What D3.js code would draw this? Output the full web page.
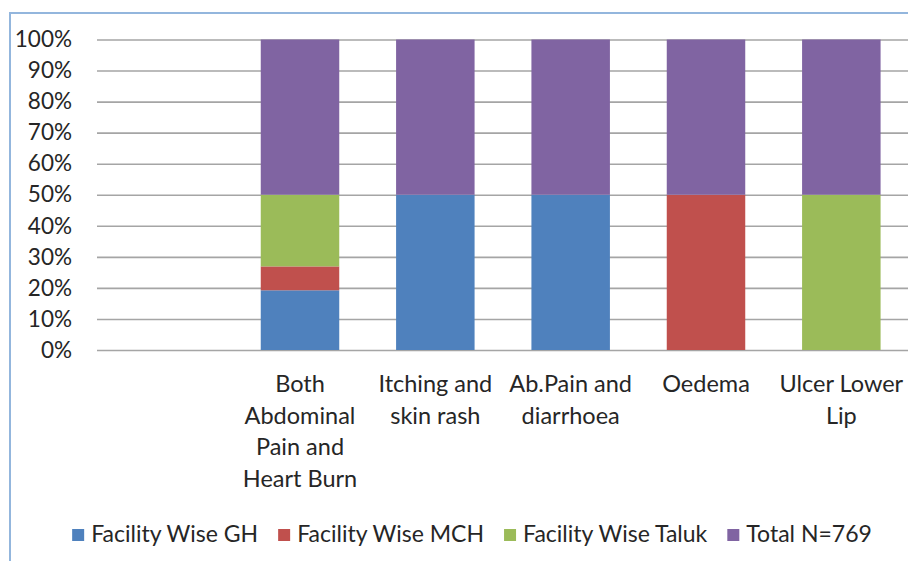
<!DOCTYPE html>
<html>
<head>
<meta charset="utf-8">
<script src="https://cdn.jsdelivr.net/npm/d3@7"></script>
<style>
  body { margin: 0; background: #fff; }
  text { font-family: Lato, "Open Sans", sans-serif; fill: #262626; }
</style>
</head>
<body>
<svg class="chart" width="908" height="561"></svg>
<script>
// data (counts, shown as 100% stacked)
const categories = ["", "Both Abdominal Pain and Heart Burn", "Itching and skin rash", "Ab.Pain and diarrhoea", "Oedema", "Ulcer Lower Lip"];
const tickLabels = [[], ["Both", "Abdominal", "Pain and", "Heart Burn"], ["Itching and", "skin rash"], ["Ab.Pain and", "diarrhoea"], ["Oedema"], ["Ulcer Lower", "Lip"]];
const seriesNames = ["Facility Wise GH", "Facility Wise MCH", "Facility Wise Taluk", "Total N=769"];
const ghValues = [0, 5, 1, 1, 0, 0];
const mchValues = [0, 2, 0, 0, 1, 0];
const talukValues = [0, 6, 0, 0, 0, 1];
const totalValues = [0, 13, 1, 1, 1, 1];
const yTicks = [0, 0.1, 0.2, 0.3, 0.4, 0.5, 0.6, 0.7, 0.8, 0.9, 1];
const colors = ["#4f81bd", "#c0504d", "#9bbb59", "#8064a2"];

const plotLeft = 97, plotRight = 909, plotTop = 39.5, plotBottom = 350;

const svg = d3.select(".chart");

// frame edges (left and top)
svg.append("path")
  .attr("d", "M10,561 V13 H908")
  .attr("fill", "none")
  .attr("stroke", "#93b6dd")
  .attr("stroke-width", 2);

const table = categories.map((c, i) => ({
  key: String(i),
  [seriesNames[0]]: ghValues[i],
  [seriesNames[1]]: mchValues[i],
  [seriesNames[2]]: talukValues[i],
  [seriesNames[3]]: totalValues[i]
}));

const stacked = d3.stack()
  .keys(seriesNames)
  .offset(d3.stackOffsetExpand)(table);

const x = d3.scaleBand()
  .domain(table.map(d => d.key))
  .range([plotLeft, plotRight])
  .paddingInner(0.42)
  .paddingOuter(0.21);

const y = d3.scaleLinear().domain([0, 1]).range([plotBottom, plotTop]);

// gridlines
svg.append("g")
  .attr("transform", `translate(${plotLeft},0)`)
  .call(d3.axisLeft(y).tickValues(yTicks).tickSize(-(plotRight - plotLeft)).tickFormat(""))
  .call(g => g.select(".domain").remove())
  .call(g => g.selectAll("line").attr("stroke", "#a5a5a5").attr("stroke-width", 1.6));

// y labels
svg.append("g")
  .attr("transform", `translate(${plotLeft},0)`)
  .call(d3.axisLeft(y).tickValues(yTicks).tickSize(0).tickPadding(25).tickFormat(d3.format(".0%")))
  .call(g => g.select(".domain").remove())
  .call(g => g.selectAll("text").style("font-size", "22.5px").attr("fill", "#262626"));

// bars
svg.append("g")
  .selectAll("g")
  .data(stacked)
  .join("g")
  .attr("fill", (d, i) => colors[i])
  .selectAll("rect")
  .data(d => d)
  .join("rect")
  .attr("x", d => x(d.data.key))
  .attr("y", d => y(d[1]))
  .attr("height", d => Math.max(0, y(d[0]) - y(d[1])))
  .attr("width", x.bandwidth());

// category labels
const xAxis = svg.append("g")
  .attr("transform", `translate(0,${plotBottom})`)
  .call(d3.axisBottom(x).tickSize(0).tickFormat(""));
xAxis.select(".domain").remove();
xAxis.selectAll(".tick text").remove();
xAxis.selectAll(".tick")
  .append("text")
  .attr("text-anchor", "middle")
  .style("font-size", "23.5px")
  .attr("fill", "#262626")
  .selectAll("tspan")
  .data(d => tickLabels[+d])
  .join("tspan")
  .attr("x", 0)
  .attr("y", (d, i) => 42 + i * 31.6)
  .text(d => d);

// legend
const legend = svg.append("g");
const items = legend.selectAll("g")
  .data(seriesNames)
  .join("g");
items.append("rect")
  .attr("width", 12)
  .attr("height", 12)
  .attr("y", -13)
  .attr("fill", (d, i) => colors[i]);
items.append("text")
  .attr("x", 19)
  .style("font-size", "23px")
  .attr("fill", "#262626")
  .text(d => d);
let pos = 0;
items.each(function() {
  d3.select(this).attr("transform", `translate(${pos},0)`);
  pos += 19 + d3.select(this).select("text").node().getComputedTextLength() + 20;
});
pos -= 20;
legend.attr("transform", `translate(${472 - pos / 2},542)`);
</script>
</body>
</html>
